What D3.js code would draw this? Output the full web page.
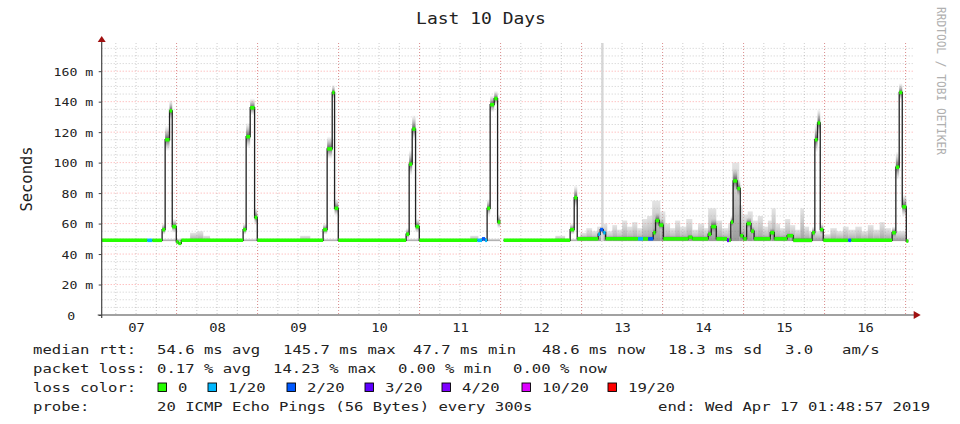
<!DOCTYPE html>
<html>
<head>
<meta charset="utf-8">
<script src="https://cdn.jsdelivr.net/npm/d3@7"></script>
<style>
body { margin: 0; background: #fff; }
text { font-family: "DejaVu Sans Mono", monospace; fill: #222; white-space: pre; }
</style>
</head>
<body>
<svg id="chart" width="960" height="424"></svg>
<script>
// ---- data ----
var startTime = Date.UTC(2019, 3, 7, 1, 48, 57);   // graph start (10 days before "end")
var spanHours = 240;

// median rtt as steps: start hour, value (ms), lost pings of 20, smoke spread (ms)
var stepHour = [0.0, 13.5, 15.0, 17.9, 18.8, 20.1, 20.9, 22.1, 22.7, 23.6,
  41.9, 42.8, 44.0, 45.3, 46.1, 65.6, 66.8, 68.3, 69.0, 70.1,
  90.2, 91.1, 92.0, 93.0, 94.1, 111.3, 112.7, 113.6, 114.2, 115.1,
  116.3, 117.3, 118.1, 119.1, 138.8, 140.0, 140.9, 147.1, 147.7, 148.6,
  149.3, 158.9, 160.4, 161.9, 163.4, 164.1, 165.2, 166.4, 173.8, 175.0,
  179.7, 180.6, 182.1, 185.3, 185.9, 186.4, 187.1, 188.3, 189.2, 190.1,
  191.1, 192.4, 193.3, 198.1, 199.3, 203.1, 204.9, 210.5, 211.3, 212.1,
  212.9, 213.8, 221.2, 222.1, 234.2, 235.3, 236.3, 237.2, 238.4, 239.0];
var medianMs = [49, 49, 49, 56, 115, 134, 58, 48, 47, 49,
  56, 117, 136, 64, 49, 56, 109, 146, 70, 49,
  53, 99, 122, 58, 49, 49, 50, 49, 70, 138,
  142, 61, null, 49, 56, 77, 50, 53, 56, 54,
  50, 50, 50, 50, 54, 62, 59, 50, 51, 50,
  53, 58, 50, 49, 49, 61, 88, 83, 52, 50,
  60, 55, 50, 54, 50, 52, 49, 54, 115, 126,
  56, 49, 49, 49, 54, 97, 146, 71, 48.5, null];
var lossCnt = [0, 1, 0, 0, 0, 0, 0, 0, 0, 0,
  0, 0, 0, 0, 0, 0, 0, 0, 0, 0,
  0, 0, 0, 0, 0, 1, 2, 1, 0, 0,
  0, 0, 0, 0, 0, 0, 0, 1, 2, 1,
  0, 1, 0, 2, 0, 0, 0, 0, 0, 0,
  0, 0, 0, 3, 0, 0, 0, 0, 0, 0,
  0, 0, 0, 0, 0, 0, 0, 0, 0, 0,
  0, 0, 2, 0, 0, 0, 0, 0, 0, 0];
var spreadMs = [1, 1, 1, 4, 9, 7, 5, 2, 1, 1,
  4, 9, 6, 6, 1, 4, 8, 5, 6, 1,
  4, 9, 9, 5, 1, 1, 1, 1, 6, 6,
  5, 5, 0, 1, 4, 8, 2, 2, 2, 2,
  2, 2, 2, 2, 3, 5, 4, 2, 2, 2,
  3, 5, 2, 2, 2, 4, 8, 6, 3, 2,
  4, 3, 2, 3, 2, 2, 2, 4, 10, 9,
  4, 1, 1, 1, 4, 10, 6, 8, 1, 0];

// upper edge of the grey smoke (ms), change points in hours
var smokeHour = [0.0, 26.2, 28.3, 30.1, 32.1, 58.8, 61.8, 109.2, 111.6, 118.1,
  119.1, 134.4, 137.3, 141.8, 143.6, 145.3, 146.8, 148.0, 148.7, 149.8,
  151.3, 152.7, 154.2, 155.7, 157.2, 158.7, 160.1, 161.6, 163.1, 165.5,
  167.0, 168.4, 169.9, 171.4, 173.2, 175.0, 176.7, 178.5, 179.7, 182.1,
  183.8, 185.6, 186.8, 188.9, 189.9, 191.4, 192.9, 194.4, 195.9, 197.4,
  198.5, 199.7, 201.0, 202.5, 204.0, 205.5, 207.0, 208.1, 209.6, 213.8,
  215.9, 217.8, 219.6, 221.3, 223.3, 225.2, 227.0, 228.7, 230.5, 232.0,
  233.8, 238.5, 239.0];
var smokeTopMs = [50, 54, 55, 52, 50, 52, 50, 52, 50, null,
  50, 52, 50, 54, 57, 55, 58, 180, 60, 55,
  59, 56, 62, 58, 61, 57, 63, 65, 75, 68,
  60, 57, 62, 58, 63, 56, 60, 57, 70, 62,
  57, 60, 100, 72, 66, 68, 62, 65, 58, 62,
  70, 60, 57, 63, 59, 56, 70, 58, 55, 53,
  57, 55, 58, 56, 58, 55, 59, 56, 61, 57,
  55, 50, null];

var yTicks = [0, 20, 40, 60, 80, 100, 120, 140, 160];
var dayLabels = ["07", "08", "09", "10", "11", "12", "13", "14", "15", "16"];

var lossLevels = [0, 1, 2, 3, 4, 10, 19];
var lossLabels = ["0", "1/20", "2/20", "3/20", "4/20", "10/20", "19/20"];
var lossColors = ["#26ff00", "#00b8ff", "#0059ff", "#5e00ff", "#7e00ff", "#dd00ff", "#ff0000"];

var rttStats = ["54.6 ms avg", "145.7 ms max", "47.7 ms min", "48.6 ms now", "18.3 ms sd", "3.0", "am/s"];
var lossStats = ["0.17 % avg", "14.23 % max", "0.00 % min", "0.00 % now"];
var probeText = "20 ICMP Echo Pings (56 Bytes) every 300s";
var endText = "end: Wed Apr 17 01:48:57 2019";

// ---- layout ----
var SX = 1.2;   // the picture is stretched sideways
var margin = {left: 101.7, top: 43};
var width = 810, height = 272;

var svg = d3.select("#chart");
var defs = svg.append("defs");

function grad(id, y1, y2, c1, o1, c2, o2) {
  var gr = defs.append("linearGradient").attr("id", id)
    .attr("x1", 0).attr("x2", 0).attr("y1", y1).attr("y2", y2);
  gr.append("stop").attr("offset", 0).attr("stop-color", c1).attr("stop-opacity", o1);
  gr.append("stop").attr("offset", 1).attr("stop-color", c2).attr("stop-opacity", o2);
}
grad("spreadUp", 1, 0, "#222", 0.8, "#999", 0.05);
grad("spreadDown", 0, 1, "#222", 0.7, "#999", 0.05);
grad("smokeBg", 1, 0, "#6e6e6e", 0.7, "#c4c4c4", 0.45);

function label(sel, x, y, str, size, anchor) {
  return sel.append("text")
    .attr("transform", "translate(" + x + "," + y + ") scale(" + SX + ",1)")
    .attr("font-size", size)
    .attr("text-anchor", anchor || "start")
    .text(str);
}

var g = svg.append("g")
  .attr("transform", "translate(" + margin.left + "," + margin.top + ")");

var hourToDate = function(h) { return new Date(startTime + h * 3600e3); };

var x = d3.scaleUtc()
  .domain([hourToDate(0), hourToDate(spanHours)])
  .range([0, width]);
var y = d3.scaleLinear()
  .domain([0, 178.5])
  .range([height, 0]);

// grid
var minorX = d3.utcHour.every(6).range(x.domain()[0], x.domain()[1]);
var majorX = d3.utcDay.range(x.domain()[0], x.domain()[1]);
var minorY = d3.range(5, 178.5, 5).filter(function(v) { return v % 20 != 0; });
var majorY = yTicks.filter(function(v) { return v > 0; });

g.selectAll(".gx").data(minorX).join("line")
  .attr("x1", function(d) { return x(d); }).attr("x2", function(d) { return x(d); })
  .attr("y1", 0).attr("y2", height)
  .attr("stroke", "rgba(0,0,0,0.2)").attr("stroke-dasharray", "1,2");
g.selectAll(".gy").data(minorY).join("line")
  .attr("x1", 0).attr("x2", width + 1)
  .attr("y1", function(d) { return y(d); }).attr("y2", function(d) { return y(d); })
  .attr("stroke", "rgba(0,0,0,0.2)").attr("stroke-dasharray", "1,2");
g.selectAll(".mx").data(majorX).join("line")
  .attr("x1", function(d) { return x(d); }).attr("x2", function(d) { return x(d); })
  .attr("y1", 0).attr("y2", height)
  .attr("stroke", "rgba(255,0,0,0.3)").attr("stroke-dasharray", "1,2");
g.selectAll(".my").data(majorY).join("line")
  .attr("x1", 0).attr("x2", width + 1)
  .attr("y1", function(d) { return y(d); }).attr("y2", function(d) { return y(d); })
  .attr("stroke", "rgba(255,0,0,0.35)").attr("stroke-dasharray", "1,2");

// grey smoke
var smoke = smokeHour.map(function(h, i) {
  return {t0: h, t1: i < smokeHour.length - 1 ? smokeHour[i + 1] : spanHours, top: smokeTopMs[i]};
}).filter(function(d) { return d.top != null; });

g.selectAll(".smoke").data(smoke).join("rect")
  .attr("x", function(d) { return x(hourToDate(d.t0)); })
  .attr("width", function(d) { return x(hourToDate(d.t1)) - x(hourToDate(d.t0)); })
  .attr("y", function(d) { return y(Math.min(d.top, 178.5)); })
  .attr("height", function(d) { return Math.max(0, y(48.5) - y(Math.min(d.top, 178.5))); })
  .attr("fill", function(d) { return d.top > 150 ? "#d6d6d6" : "url(#smokeBg)"; });

// median steps
var steps = stepHour.map(function(h, i) {
  return {t0: h, t1: i < stepHour.length - 1 ? stepHour[i + 1] : spanHours,
          m: medianMs[i], loss: lossCnt[i], spread: spreadMs[i]};
});
var valid = steps.filter(function(s) { return s.m != null; });

g.selectAll(".up").data(valid).join("rect")
  .attr("x", function(d) { return x(hourToDate(d.t0)); })
  .attr("width", function(d) { return x(hourToDate(d.t1)) - x(hourToDate(d.t0)); })
  .attr("y", function(d) { return y(d.m + d.spread); })
  .attr("height", function(d) { return y(d.m) - y(d.m + d.spread); })
  .attr("fill", "url(#spreadUp)");
g.selectAll(".down").data(valid).join("rect")
  .attr("x", function(d) { return x(hourToDate(d.t0)); })
  .attr("width", function(d) { return x(hourToDate(d.t1)) - x(hourToDate(d.t0)); })
  .attr("y", function(d) { return y(d.m); })
  .attr("height", function(d) { return y(d.m - d.spread * 0.8) - y(d.m); })
  .attr("fill", "url(#spreadDown)");

var pts = [];
steps.forEach(function(s) {
  if (s.m == null) { pts.push(null); return; }
  pts.push([s.t0, s.m], [s.t1, s.m]);
});
var medLine = d3.line()
  .defined(function(p) { return p !== null; })
  .x(function(p) { return x(hourToDate(p[0])); })
  .y(function(p) { return y(p[1]); });

g.append("path")
  .attr("d", medLine(pts))
  .attr("fill", "none")
  .attr("stroke", "#222")
  .attr("stroke-width", 1.3);

function lossColor(n) {
  var c = lossColors[0];
  lossLevels.forEach(function(l, i) { if (n >= l) c = lossColors[i]; });
  return c;
}

g.selectAll(".med").data(valid).join("line")
  .attr("x1", function(d) { return x(hourToDate(d.t0)); })
  .attr("x2", function(d) { return x(hourToDate(d.t1)); })
  .attr("y1", function(d) { return y(d.m); })
  .attr("y2", function(d) { return y(d.m); })
  .attr("stroke", function(d) { return lossColor(d.loss); })
  .attr("stroke-width", 3.5);

// axes
var yAxis = g.append("g")
  .call(d3.axisLeft(y).tickValues(yTicks).tickSize(3)
    .tickFormat(function(d) { return d === 0 ? "0" : d + " m"; }));
yAxis.select(".domain").remove();
yAxis.selectAll(".tick line").attr("stroke", "#444");
yAxis.selectAll("text")
  .attr("x", null).attr("dy", null)
  .attr("fill", "#333")
  .attr("font-family", "DejaVu Sans Mono, monospace")
  .attr("font-size", 11)
  .attr("transform", function(d) {
    return "translate(" + (d === 0 ? -26.5 : -8.5) + ",4) scale(" + SX + ",1)";
  });

var noon = majorX.map(function(d) { return d3.utcHour.offset(d, -12); })
  .concat([d3.utcHour.offset(majorX[majorX.length - 1], 12)]);
var xAxis = g.append("g")
  .attr("transform", "translate(0," + height + ")")
  .call(d3.axisBottom(x).tickValues(noon).tickSize(0)
    .tickFormat(function(d, i) { return dayLabels[i]; }));
xAxis.select(".domain").remove();
xAxis.selectAll("text")
  .attr("y", null).attr("dy", null)
  .attr("fill", "#333")
  .attr("font-family", "DejaVu Sans Mono, monospace")
  .attr("font-size", 11.5)
  .attr("transform", "translate(0,17) scale(" + SX + ",1)");

g.append("line")
  .attr("x1", -4).attr("x2", width + 4)
  .attr("y1", height).attr("y2", height)
  .attr("stroke", "#444").attr("stroke-width", 1.2);
g.append("line")
  .attr("x1", 0).attr("x2", 0)
  .attr("y1", height + 3).attr("y2", -1)
  .attr("stroke", "#444").attr("stroke-width", 1.2);
g.append("path")
  .attr("d", "M" + (width + 2) + "," + (height - 4) + "L" + (width + 9) + "," + height + "L" + (width + 2) + "," + (height + 4) + "Z")
  .attr("fill", "#a01010");
g.append("path")
  .attr("d", "M-4,-1L0,-7L4,-1Z")
  .attr("fill", "#a01010");

// titles
label(svg, 481, 24, "Last 10 Days", 15, "middle");

svg.append("text")
  .attr("transform", "translate(32,179) rotate(-90) scale(1,1.15)")
  .attr("text-anchor", "middle")
  .attr("font-size", 13.5)
  .attr("textLength", 65).attr("lengthAdjust", "spacingAndGlyphs")
  .attr("fill", "#333")
  .text("Seconds");

svg.append("text")
  .attr("transform", "translate(937,7) rotate(90) scale(1,1.2)")
  .attr("font-size", 10)
  .attr("textLength", 148).attr("lengthAdjust", "spacingAndGlyphs")
  .style("fill", "#b0b0b0")
  .text("RRDTOOL / TOBI OETIKER");

// legend
var fs = 13;
label(svg, 33, 354, "median rtt:", fs);
[157, 283, 413, 542, 668, 785, 842].forEach(function(px, i) {
  label(svg, px, 354, rttStats[i], fs);
});
label(svg, 33, 373, "packet loss:", fs);
[157, 273, 398, 513].forEach(function(px, i) {
  label(svg, px, 373, lossStats[i], fs);
});
label(svg, 33, 392, "loss color:", fs);
[178, 228, 307, 385, 462, 542, 628].forEach(function(px, i) {
  svg.append("rect")
    .attr("x", px - 20).attr("y", 383)
    .attr("width", 8.5).attr("height", 8.5)
    .attr("fill", lossColors[i])
    .attr("stroke", "#000").attr("stroke-width", 0.9);
  label(svg, px, 392, lossLabels[i], fs);
});
label(svg, 33, 411, "probe:", fs);
label(svg, 157, 411, probeText, fs);
label(svg, 658, 411, endText, fs);
</script>
</body>
</html>
